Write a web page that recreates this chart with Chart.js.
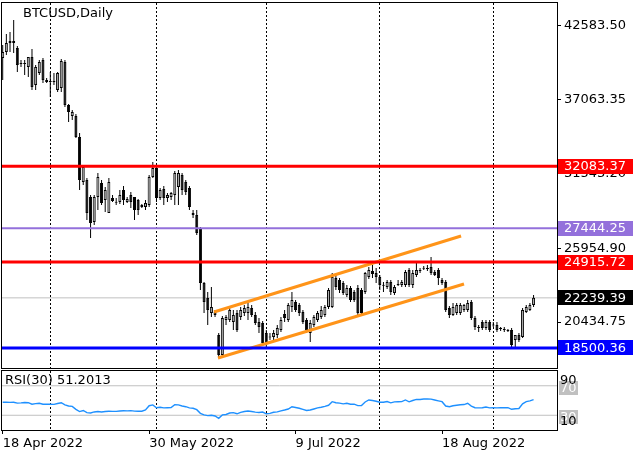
<!DOCTYPE html>
<html>
<head>
<meta charset="utf-8">
<script src="https://cdn.jsdelivr.net/npm/chart.js@4"></script>
<style>
  body { margin: 0; background: #fff; width: 640px; height: 457px; overflow: hidden; position: relative; }
  #main { position: absolute; left: 0; top: 0; }
  #rsi { position: absolute; left: 0; top: 369px; }
</style>
</head>
<body>
<canvas id="main" width="640" height="369" style="width:640px;height:369px"></canvas>
<canvas id="rsi" width="640" height="88" style="width:640px;height:88px"></canvas>
<script>
// daily BTCUSD candles, 20 Apr 2022 .. 12 Sep 2022 (index = bar number)
const open = [
  40165,40613,41435,41286,40912,39791,39791,39492,40239,38147,
  39044,40015,38520,38446,38446,37773,37923,39866,36652,35830,
  35830,34261,30898,31048,29777,27909,29777,30823,29553,28581,
  29702,29403,29403,30300,29403,29926,29777,29553,29179,29030,
  29179,31272,31944,29702,30375,29702,29777,29926,30524,31421,
  30898,30450,28581,28432,27461,23350,22230,21108,21183,19464,
  17970,20585,20585,20436,21108,20809,21108,21108,21482,20959,
  20436,20361,19614,19315,19315,19464,19838,21034,20585,21557,
  21930,21706,21183,20585,19614,20212,20585,20809,20959,21557,
  21557,23724,23575,23350,22454,22977,22678,22977,22827,22678,
  23799,24247,24098,23799,23201,23051,23425,22603,23276,23201,
  23201,24322,23201,23948,24322,24471,24471,24546,24172,24322,
  23575,23425,21482,20959,21108,21108,21333,21333,21930,20735,
  20062,20436,19987,20436,20212,20212,19987,19913,19838,19838,
  19091,19464,19315,21183,21333,21706
];
const high = [
  41136,41958,42108,43004,41062,40015,40015,40239,40837,39642,
  40015,40165,38670,39118,39044,39118,40090,40015,36727,36279,
  35980,34560,32169,31197,29926,29926,31571,31048,30524,31197,
  29926,29702,30300,30599,29777,30151,29777,29627,29254,29553,
  31421,32393,32019,30450,30599,30076,30151,31720,31795,31571,
  31048,30599,28806,28806,27536,23425,22678,23051,21333,19614,
  20884,20959,21632,21333,21333,21557,21706,21856,21706,21183,
  20735,20511,19838,19614,19838,20212,20809,21333,21856,22678,
  22080,21856,21333,20735,20585,20959,21258,21632,21706,22977,
  24098,23948,23724,23500,23201,23126,22827,23201,22977,24172,
  24546,24696,24471,23948,23425,23575,23575,23201,23575,23575,
  24322,24471,24322,24845,24471,24621,24696,25293,24322,24471,
  23724,23575,21632,21856,21856,21856,21781,22080,22080,20884,
  20212,20585,20585,20585,20436,20436,20062,20062,19913,19987,
  19464,19614,21482,21706,21856,22454
];
const low = [
  38520,40389,40613,40538,39118,39492,38894,38745,37773,37773,
  38894,38296,38296,37250,38147,37624,37624,36503,35382,35531,
  34186,30300,30674,28058,26713,27685,28806,29179,28656,28581,
  29403,29179,29254,29179,29329,28955,28058,28432,28955,28806,
  29030,31197,29403,29553,29179,29403,29553,29179,29179,29926,
  29926,28806,28207,26937,22827,21108,20212,20809,20809,17745,
  17820,20212,20436,19838,19688,20585,20884,20585,20809,20212,
  19614,18717,18493,19091,19091,19240,19688,20436,20436,21183,
  21183,20884,20286,19614,18942,20062,20436,20660,20809,21408,
  21482,22827,22603,22454,22304,21930,21930,20959,21034,22529,
  23649,23724,23350,22827,22678,22902,22454,22454,23126,23051,
  23051,23051,22977,23799,24098,24322,24247,23948,23873,23201,
  23201,21183,20735,20884,20959,20959,21183,21183,20585,19838,
  19688,19838,19838,19688,20062,19688,19763,19688,19688,18568,
  18568,18942,19240,21108,21258,21557
];
const close = [
  40613,41286,41286,41435,39642,39716,39716,40239,37997,39492,
  39866,38520,38371,38371,38371,39044,39941,36652,36129,36129,
  34261,31048,32019,28581,27834,29777,31272,29329,30300,30898,
  29478,29350,29926,29553,29627,29403,28806,28806,29030,29329,
  31272,31944,29702,30300,29702,29926,30076,31571,31571,30300,
  30151,29030,28432,27087,23350,21930,21333,21557,20959,17970,
  20735,20809,21333,20959,19838,21333,21482,21557,20959,20361,
  20062,18867,18867,19280,19614,19987,20585,20735,21706,22080,
  21333,21108,20436,19838,20361,20809,21108,21333,21557,22827,
  23799,23051,22827,22603,22977,22080,22080,21108,21108,24098,
  24322,24023,23799,23201,23150,23425,22678,23051,23201,23425,
  24172,23201,24098,24322,24247,24420,24397,24098,23948,23724,
  23350,21333,20959,21557,21706,21706,21706,21856,20735,20062,
  19987,19987,20436,19838,20180,19838,19913,19838,19763,18717,
  19464,19091,21333,21557,21706,22239.39
];
const rsi = [
  47.6,47.8,47.5,47.6,46.5,46.8,47.3,47.0,45.0,45.8,
  46.2,45.0,44.9,45.0,44.8,46.0,47.0,44.0,42.5,42.0,
  38.0,35.0,36.5,33.5,33.0,34.5,35.0,34.5,35.0,35.5,
  35.2,35.3,35.8,36.2,36.0,36.3,35.6,35.5,35.4,37.1,
  42.9,44.0,40.2,40.8,40.0,40.2,40.5,44.3,44.0,42.5,
  41.6,40.0,39.5,37.5,32.6,30.5,29.5,30.0,29.0,25.9,
  30.5,31.0,33.0,33.5,32.0,34.0,35.0,35.8,35.0,34.3,
  33.8,34.4,32.0,32.5,34.0,34.5,36.0,37.1,38.5,41.6,
  40.5,39.5,38.0,36.5,37.1,38.5,40.0,40.8,42.0,43.5,
  48.4,47.0,46.5,45.5,46.2,45.0,45.0,43.0,43.2,48.0,
  50.7,50.0,49.0,47.6,47.6,48.6,46.8,48.2,48.4,48.5,
  50.7,48.2,50.0,51.5,51.4,52.0,52.0,51.8,50.7,49.5,
  48.4,42.5,41.5,42.8,43.5,44.2,44.5,46.2,42.5,40.2,
  40.0,40.2,41.2,40.0,40.3,40.0,40.2,40.1,40.2,38.1,
  38.8,39.2,45.5,48.4,49.5,51.2013
];

// horizontal levels and channel (bar index, price)
const levelValues = [32083.37, 27444.25, 24915.72, 18500.36];
const levelColors = ['#ff0000', '#9370db', '#ff0000', '#0000ff'];
const levelWidths = [3, 2, 3, 3];
const channelUpper = [{ x: 57.7, y: 21180 }, { x: 125.2, y: 26860 }];
const channelLower = [{ x: 58.8, y: 17745 }, { x: 126.0, y: 23276 }];

const priceTicks = [42583.50, 37063.35, 31543.20, 25954.90, 20434.75];
const monthGrid = [13, 42, 72, 103, 134];
const dateLabels = ['18 Apr 2022', '30 May 2022', '9 Jul 2022', '18 Aug 2022'];
const dateIdx = [0, 40, 80, 120];
const rsiLevels = [70, 30];

const X_MIN = -0.19, X_MAX = 151.4;
const FONT = 'DejaVu Sans';
const lastPrice = close[close.length - 1];

const bodies = open.map((o, k) => ({ x: k, y: [o, close[k]] }));
const wicks = low.map((l, k) => ({ x: k, y: [l, high[k]] }));
const bodyColors = open.map((o, k) => close[k] >= o ? '#b4b4b4' : '#000000');

function hline(v) {
  return [{ x: X_MIN - 2, y: v }, { x: X_MAX + 2, y: v }];
}

// keep axes from reserving room for half-labels at the ends
function noPad(s) {
  s.paddingTop = 0; s.paddingBottom = 0; s.paddingLeft = 0; s.paddingRight = 0;
}

const levelSets = levelValues.map((v, k) => ({
  type: 'line', data: hline(v), borderColor: levelColors[k], borderWidth: levelWidths[k],
  pointRadius: 0, order: 0
}));

function box(ctx, y, text, bg, x, w) {
  ctx.fillStyle = bg;
  ctx.fillRect(x, Math.round(y - 7.5), w, 15);
  ctx.fillStyle = '#fff';
  ctx.textBaseline = 'middle';
  ctx.textAlign = 'left';
  ctx.fillText(text, x + 6, y + 0.5);
}

const mainDeco = {
  id: 'mainDeco',
  afterDraw(chart) {
    const { ctx, chartArea: a } = chart;
    const y = chart.scales.y;
    ctx.save();
    ctx.strokeStyle = '#000';
    ctx.lineWidth = 1;
    ctx.strokeRect(a.left - 0.5, a.top - 0.5, a.right - a.left + 1, a.bottom - a.top + 1);
    ctx.font = '13px "' + FONT + '"';
    levelValues.forEach((v, k) => box(ctx, y.getPixelForValue(v), v.toFixed(2), levelColors[k], 558, 75));
    box(ctx, y.getPixelForValue(lastPrice), lastPrice.toFixed(2), '#000', 558, 75);
    ctx.fillStyle = '#000';
    ctx.textBaseline = 'middle';
    ctx.fillText('BTCUSD,Daily', 23, 13.5);
    ctx.restore();
  }
};

new Chart(document.getElementById('main'), {
  type: 'bar',
  data: {
    datasets: [
      ...levelSets,
      { type: 'line', data: channelUpper, borderColor: '#ff9419', borderWidth: 3, pointRadius: 0, order: 0 },
      { type: 'line', data: channelLower, borderColor: '#ff9419', borderWidth: 3, pointRadius: 0, order: 0 },
      { data: bodies, backgroundColor: bodyColors, borderColor: '#000', borderWidth: 1, borderSkipped: false,
        barThickness: 3, minBarLength: 1, grouped: false, inflateAmount: 0, order: 1 },
      { data: wicks, backgroundColor: '#000', borderWidth: 0, barThickness: 1, grouped: false,
        inflateAmount: 0, order: 2 },
      { type: 'line', data: hline(lastPrice), borderColor: '#c0c0c0', borderWidth: 1, pointRadius: 0, order: 3 }
    ]
  },
  options: {
    responsive: false,
    animation: false,
    layout: { padding: { left: 2, top: 3, right: 0, bottom: 1 } },
    plugins: { legend: { display: false }, tooltip: { enabled: false } },
    scales: {
      x: {
        type: 'linear', min: X_MIN, max: X_MAX, offset: false,
        afterBuildTicks: s => { s.ticks = monthGrid.map(v => ({ value: v })); },
        ticks: { display: false },
        grid: { color: '#000', drawTicks: false, offset: false },
        border: { display: false, dash: [2, 2] },
        afterFit: s => { s.height = 0; noPad(s); }
      },
      y: {
        position: 'right', min: 16998, max: 44275,
        afterBuildTicks: s => { s.ticks = priceTicks.map(v => ({ value: v })); },
        ticks: { callback: v => v.toFixed(2), color: '#000', font: { family: FONT, size: 13 }, padding: 3 },
        grid: { drawOnChartArea: false, drawTicks: true, tickLength: 4, color: '#000' },
        border: { display: false },
        afterFit: s => { s.width = 83; noPad(s); }
      }
    }
  },
  plugins: [mainDeco]
});

const rsiDeco = {
  id: 'rsiDeco',
  afterDraw(chart) {
    const { ctx, chartArea: a } = chart;
    const y = chart.scales.y;
    ctx.save();
    ctx.strokeStyle = '#000';
    ctx.lineWidth = 1;
    ctx.strokeRect(a.left - 0.5, a.top - 0.5, a.right - a.left + 1, a.bottom - a.top + 1);
    ctx.font = '13px "' + FONT + '"';
    rsiLevels.forEach(v => {
      const py = y.getPixelForValue(v) + 2;
      ctx.fillStyle = '#c0c0c0';
      ctx.fillRect(559, Math.round(py - 7), 19, 14);
      ctx.fillStyle = '#fff';
      ctx.textBaseline = 'middle';
      ctx.fillText(String(v), 560, py + 0.5);
    });
    ctx.fillStyle = '#000';
    ctx.textBaseline = 'middle';
    ctx.fillText('90', 560, y.getPixelForValue(90) + 10);
    ctx.fillText('10', 560, y.getPixelForValue(10) - 8);
    ctx.fillText('RSI(30) ' + rsi[rsi.length - 1].toFixed(4), 5, a.top + 9.5);
    ctx.restore();
  }
};

new Chart(document.getElementById('rsi'), {
  type: 'line',
  data: {
    datasets: [
      { data: rsi.map((v, k) => ({ x: k, y: v })), borderColor: '#1e90ff', borderWidth: 1.4, pointRadius: 0, tension: 0 },
      ...rsiLevels.map(v => ({ data: hline(v), borderColor: '#c0c0c0', borderWidth: 1, pointRadius: 0 }))
    ]
  },
  options: {
    responsive: false,
    animation: false,
    layout: { padding: { left: 2, top: 2, right: 0, bottom: 0 } },
    plugins: { legend: { display: false }, tooltip: { enabled: false } },
    scales: {
      x: {
        type: 'linear', min: X_MIN, max: X_MAX,
        afterBuildTicks: s => { s.ticks = monthGrid.map(v => ({ value: v })); },
        ticks: { display: false },
        grid: { color: '#000', drawTicks: false },
        border: { display: false, dash: [2, 2] },
        afterFit: s => { s.height = 0; noPad(s); }
      },
      xd: {
        type: 'linear', position: 'bottom', min: X_MIN, max: X_MAX,
        afterBuildTicks: s => { s.ticks = dateIdx.map(v => ({ value: v })); },
        ticks: {
          callback: (v, i) => dateLabels[i], align: 'start', autoSkip: false, maxRotation: 0,
          color: '#000', font: { family: FONT, size: 13 }, padding: 2
        },
        grid: { drawOnChartArea: false, drawTicks: true, tickLength: 4, color: '#000' },
        border: { display: false },
        afterFit: s => { s.height = 27; noPad(s); }
      },
      y: {
        position: 'right', min: 10, max: 90,
        ticks: { display: false },
        grid: { display: false },
        border: { display: false },
        afterFit: s => { s.width = 83; noPad(s); }
      }
    }
  },
  plugins: [rsiDeco]
});
</script>
</body>
</html>
